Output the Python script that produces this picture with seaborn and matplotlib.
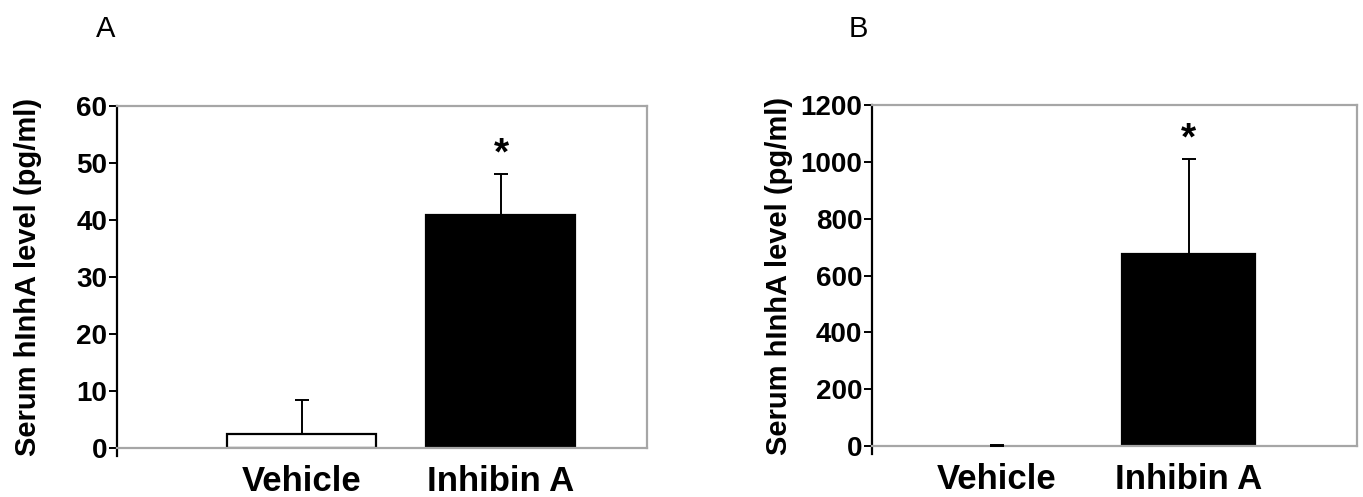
import matplotlib
matplotlib.use("Agg")
import matplotlib.pyplot as plt
import seaborn as sns
import pandas as pd

# ---- data ----
categories = ["Vehicle", "Inhibin A"]
a_means = [2.5, 40.8]
a_err_up = [5.9, 7.2]
b_means = [1.0, 676.0]
b_err_up = [3.0, 333.0]
a_yticks = [0, 10, 20, 30, 40, 50, 60]
b_yticks = [0, 200, 400, 600, 800, 1000, 1200]
ylabel = "Serum hInhA level (pg/ml)"
panel_labels = ["A", "B"]
sig_marker = "*"
a_sig_y = 51.5
b_sig_y = 1080.0
bar_colors = ["white", "black"]

sns.set_theme(style="white")
plt.rcParams["font.family"] = ["Liberation Sans", "DejaVu Sans"]
plt.rcParams["text.color"] = "black"
plt.rcParams["xtick.color"] = "black"
plt.rcParams["ytick.color"] = "black"
plt.rcParams["axes.labelcolor"] = "black"

fig = plt.figure(figsize=(13.63, 4.97), dpi=100)

GRAY = "#a6a6a6"

def make_panel(rect, means, errs, yticks, xlim, width, sig_y, label, label_xy, ylab_x):
    ax = fig.add_axes(rect)
    df = pd.DataFrame({"cat": categories, "val": means})
    sns.barplot(data=df, x="cat", y="val", hue="cat", palette=dict(zip(categories, bar_colors)),
                order=categories, hue_order=categories, legend=False, width=width,
                edgecolor="black", linewidth=1.6, ax=ax, errorbar=None, zorder=2)
    span = yticks[-1] - yticks[0]
    # bars too small to see get no outline (as in the original figure)
    for p in ax.patches:
        if p.get_height() < span * 0.005:
            p.set_linewidth(0)
    ax.errorbar(range(len(categories)), means, yerr=[[0] * len(errs), errs], fmt="none",
                ecolor="black", elinewidth=1.4, capsize=4.7, capthick=1.4, zorder=3)
    ax.set_xlim(*xlim)
    ax.set_ylim(yticks[0], yticks[-1])
    ax.set_yticks(yticks)
    ax.set_yticklabels([str(t) for t in yticks], fontsize=20, fontweight="bold")
    ax.set_xticks(range(len(categories)))
    ax.set_xticklabels(categories, fontsize=25, fontweight="bold")
    ax.tick_params(axis="x", length=0, pad=12)
    ax.tick_params(axis="y", direction="out", length=6, width=1.4, color="black", pad=1, left=True)
    ax.set_xlabel("")
    ax.set_ylabel(ylabel, fontsize=21, fontweight="bold")
    ax.yaxis.set_label_coords(ylab_x, 0.5)
    for s in ["top", "right", "bottom"]:
        ax.spines[s].set_visible(True)
        ax.spines[s].set_color(GRAY)
        ax.spines[s].set_linewidth(1.6)
    ax.spines["left"].set_color("black")
    ax.spines["left"].set_linewidth(1.6)
    ax.spines["left"].set_bounds(yticks[0] - span * 0.024, yticks[-1])
    ax.text(1, sig_y, sig_marker, ha="center", va="center", fontsize=28, fontweight="bold")
    fig.text(label_xy[0], label_xy[1], label, fontsize=21, ha="left", va="baseline")
    return ax

axA = make_panel([117 / 1363, 49 / 497, 530 / 1363, 342 / 497], a_means, a_err_up, a_yticks,
                 (-0.925, 1.732), 0.747, a_sig_y, panel_labels[0], (96 / 1363, 1 - 37 / 497), -0.1415)
axB = make_panel([872 / 1363, 51 / 497, 485 / 1363, 341 / 497], b_means, b_err_up, b_yticks,
                 (-0.653, 1.880), 0.695, b_sig_y, panel_labels[1], (849 / 1363, 1 - 37 / 497), -0.163)

fig.savefig("out.png", dpi=100)
